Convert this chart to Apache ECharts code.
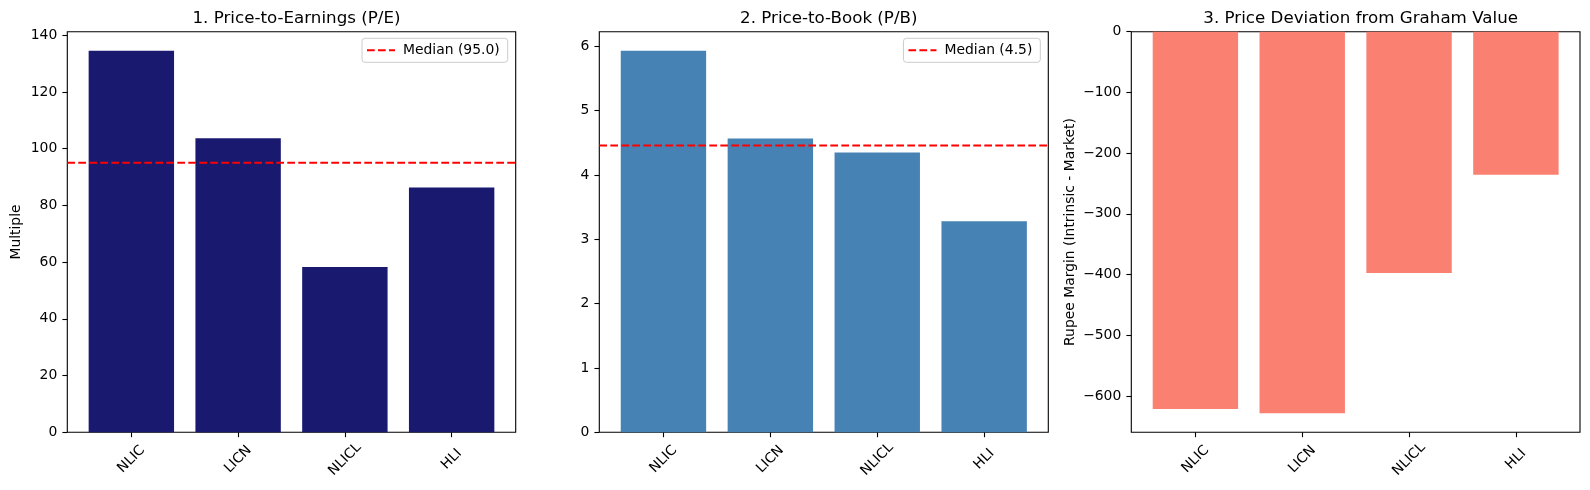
<!DOCTYPE html>
<html>
<head>
<meta charset="utf-8">
<script src="https://cdn.jsdelivr.net/npm/echarts@6/dist/echarts.min.js"></script>
<style>
html,body{margin:0;padding:0;background:#fff;}
#chart{width:1590px;height:490px;}
</style>
</head>
<body>
<div id="chart"></div>
<script>
// ---- data ----
var categories = ['NLIC', 'LICN', 'NLICL', 'HLI'];
var peValues = [134.5, 103.7, 58.3, 86.3];
var pbValues = [5.93, 4.567, 4.35, 3.28];
var grahamValues = [-621.4, -628.5, -397.7, -235.7];
var peTicks = [0, 20, 40, 60, 80, 100, 120, 140];
var pbTicks = [0, 1, 2, 3, 4, 5, 6];
var grahamTicks = [0, -100, -200, -300, -400, -500, -600];
var titles = ['1. Price-to-Earnings (P/E)', '2. Price-to-Book (P/B)', '3. Price Deviation from Graham Value'];

function median(arr) {
  var s = arr.slice().sort(function (a, b) { return a - b; });
  var n = s.length;
  return n % 2 ? s[(n - 1) / 2] : (s[n / 2 - 1] + s[n / 2]) / 2;
}
var peMed = median(peValues);
var pbMed = median(pbValues);

var FONT = 'DejaVu Sans';
var grids = [
  { left: 67.3, right: 1590 - 515.7 },
  { left: 599.3, right: 1590 - 1048.3 },
  { left: 1131.3, right: 1590 - 1580 }
];
var TOP = 31.7, BOTTOM = 490 - 432.3;
var chart = echarts.init(document.getElementById('chart'), null, { renderer: 'canvas' });

function minusFmt(v) {
  var s = String(Math.round(v * 1000) / 1000);
  return s.replace('-', '\u2212');
}

var gridOpt = grids.map(function (g) {
  return { left: g.left, right: g.right, top: TOP, bottom: BOTTOM, show: true,
    borderColor: '#000', borderWidth: 1.1, backgroundColor: 'transparent', containLabel: false };
});

var xAxes = [0, 1, 2].map(function (i) {
  return {
    type: 'value', gridIndex: i, min: -0.6, max: 3.6,
    axisLine: { show: false, onZero: false },
    splitLine: { show: false },
    axisTick: { show: true, length: 4.9, customValues: [0, 1, 2, 3], lineStyle: { color: '#000', width: 1.1 } },
    axisLabel: {
      show: true, customValues: [0, 1, 2, 3], rotate: 45, align: 'center', verticalAlign: 'middle',
      margin: 27, fontFamily: FONT, fontSize: 13.9, color: '#000',
      formatter: function (v) { return categories[Math.round(v)] || ''; }
    }
  };
});

function yAxis(i, min, max, ticks, name, gap) {
  var ax = {
    type: 'value', gridIndex: i, min: min, max: max,
    nameLocation: 'middle', nameGap: gap, nameRotate: 90,
    nameTextStyle: { fontFamily: FONT, fontSize: 13.9, color: '#000' },
    axisLine: { show: false, onZero: false },
    splitLine: { show: false },
    axisTick: { show: true, length: 4.9, customValues: ticks, lineStyle: { color: '#000', width: 1.1 } },
    axisLabel: { show: true, customValues: ticks, margin: 10, fontFamily: FONT, fontSize: 13.9, color: '#000',
      formatter: minusFmt }
  };
  if (name) ax.name = name;
  return ax;
}

var peMax = Math.max.apply(null, peValues) * 1.05;
var pbMax = Math.max.apply(null, pbValues) * 1.05;
var grMin = Math.min.apply(null, grahamValues) * 1.05;

var yAxes = [
  yAxis(0, 0, peMax, peTicks, 'Multiple', 44),
  yAxis(1, 0, pbMax, pbTicks, null, 30),
  yAxis(2, grMin, 0, grahamTicks, 'Rupee Margin (Intrinsic - Market)', 54)
];

function pairs(vals) { return vals.map(function (v, i) { return [i, v]; }); }

var peMedName = 'Median (' + peMed.toFixed(1) + ')';
var pbMedName = 'Median (' + pbMed.toFixed(1) + ')';
var dashIcon = 'path://M0,0h7.7v2h-7.7z M11,0h7.7v2h-7.7z M22,0h6v2h-6z';

var series = [
  { type: 'bar', xAxisIndex: 0, yAxisIndex: 0, data: pairs(peValues), barWidth: 85.4,
    itemStyle: { color: '#191970' }, silent: true, z: 2 },
  { type: 'line', name: peMedName, xAxisIndex: 0, yAxisIndex: 0,
    data: [[-0.6, peMed], [3.6, peMed]], symbol: 'none', silent: true, z: 3,
    lineStyle: { color: '#ff0000', width: 2.1, type: [7.7, 3.3] }, itemStyle: { color: '#ff0000' } },
  { type: 'bar', xAxisIndex: 1, yAxisIndex: 1, data: pairs(pbValues), barWidth: 85.4,
    itemStyle: { color: '#4682B4' }, silent: true, z: 2 },
  { type: 'line', name: pbMedName, xAxisIndex: 1, yAxisIndex: 1,
    data: [[-0.6, pbMed], [3.6, pbMed]], symbol: 'none', silent: true, z: 3,
    lineStyle: { color: '#ff0000', width: 2.1, type: [7.7, 3.3] }, itemStyle: { color: '#ff0000' } },
  { type: 'bar', xAxisIndex: 2, yAxisIndex: 2, data: pairs(grahamValues), barWidth: 85.4,
    itemStyle: { color: '#FA8072' }, silent: true, z: 2 }
];

function legendAt(right, name) {
  return {
    data: [{ name: name, icon: dashIcon, itemStyle: { color: '#ff0000' } }],
    right: right, top: 38.3, orient: 'horizontal',
    itemWidth: 28, itemHeight: 2, itemGap: 0,
    selectedMode: false,
    padding: [5, 8, 5, 5],
    borderColor: '#cccccc', borderWidth: 1, borderRadius: 3,
    backgroundColor: 'rgba(255,255,255,0.8)',
    textStyle: { fontFamily: FONT, fontSize: 13.9, color: '#000', padding: [0, 0, 0, 3] }
  };
}

var titleOpt = titles.map(function (t, i) {
  var g = grids[i];
  var l = g.left, r = 1590 - g.right;
  return { text: t, left: (l + r) / 2, textAlign: 'center', top: 5.5,
    textStyle: { fontFamily: FONT, fontSize: 16.7, fontWeight: 'normal', color: '#000' } };
});

chart.setOption({
  animation: false,
  backgroundColor: '#fff',
  title: titleOpt,
  grid: gridOpt,
  xAxis: xAxes,
  yAxis: yAxes,
  legend: [legendAt(1590 - 507.7, peMedName), legendAt(1590 - 1040.3, pbMedName)],
  series: series
});
</script>
</body>
</html>
